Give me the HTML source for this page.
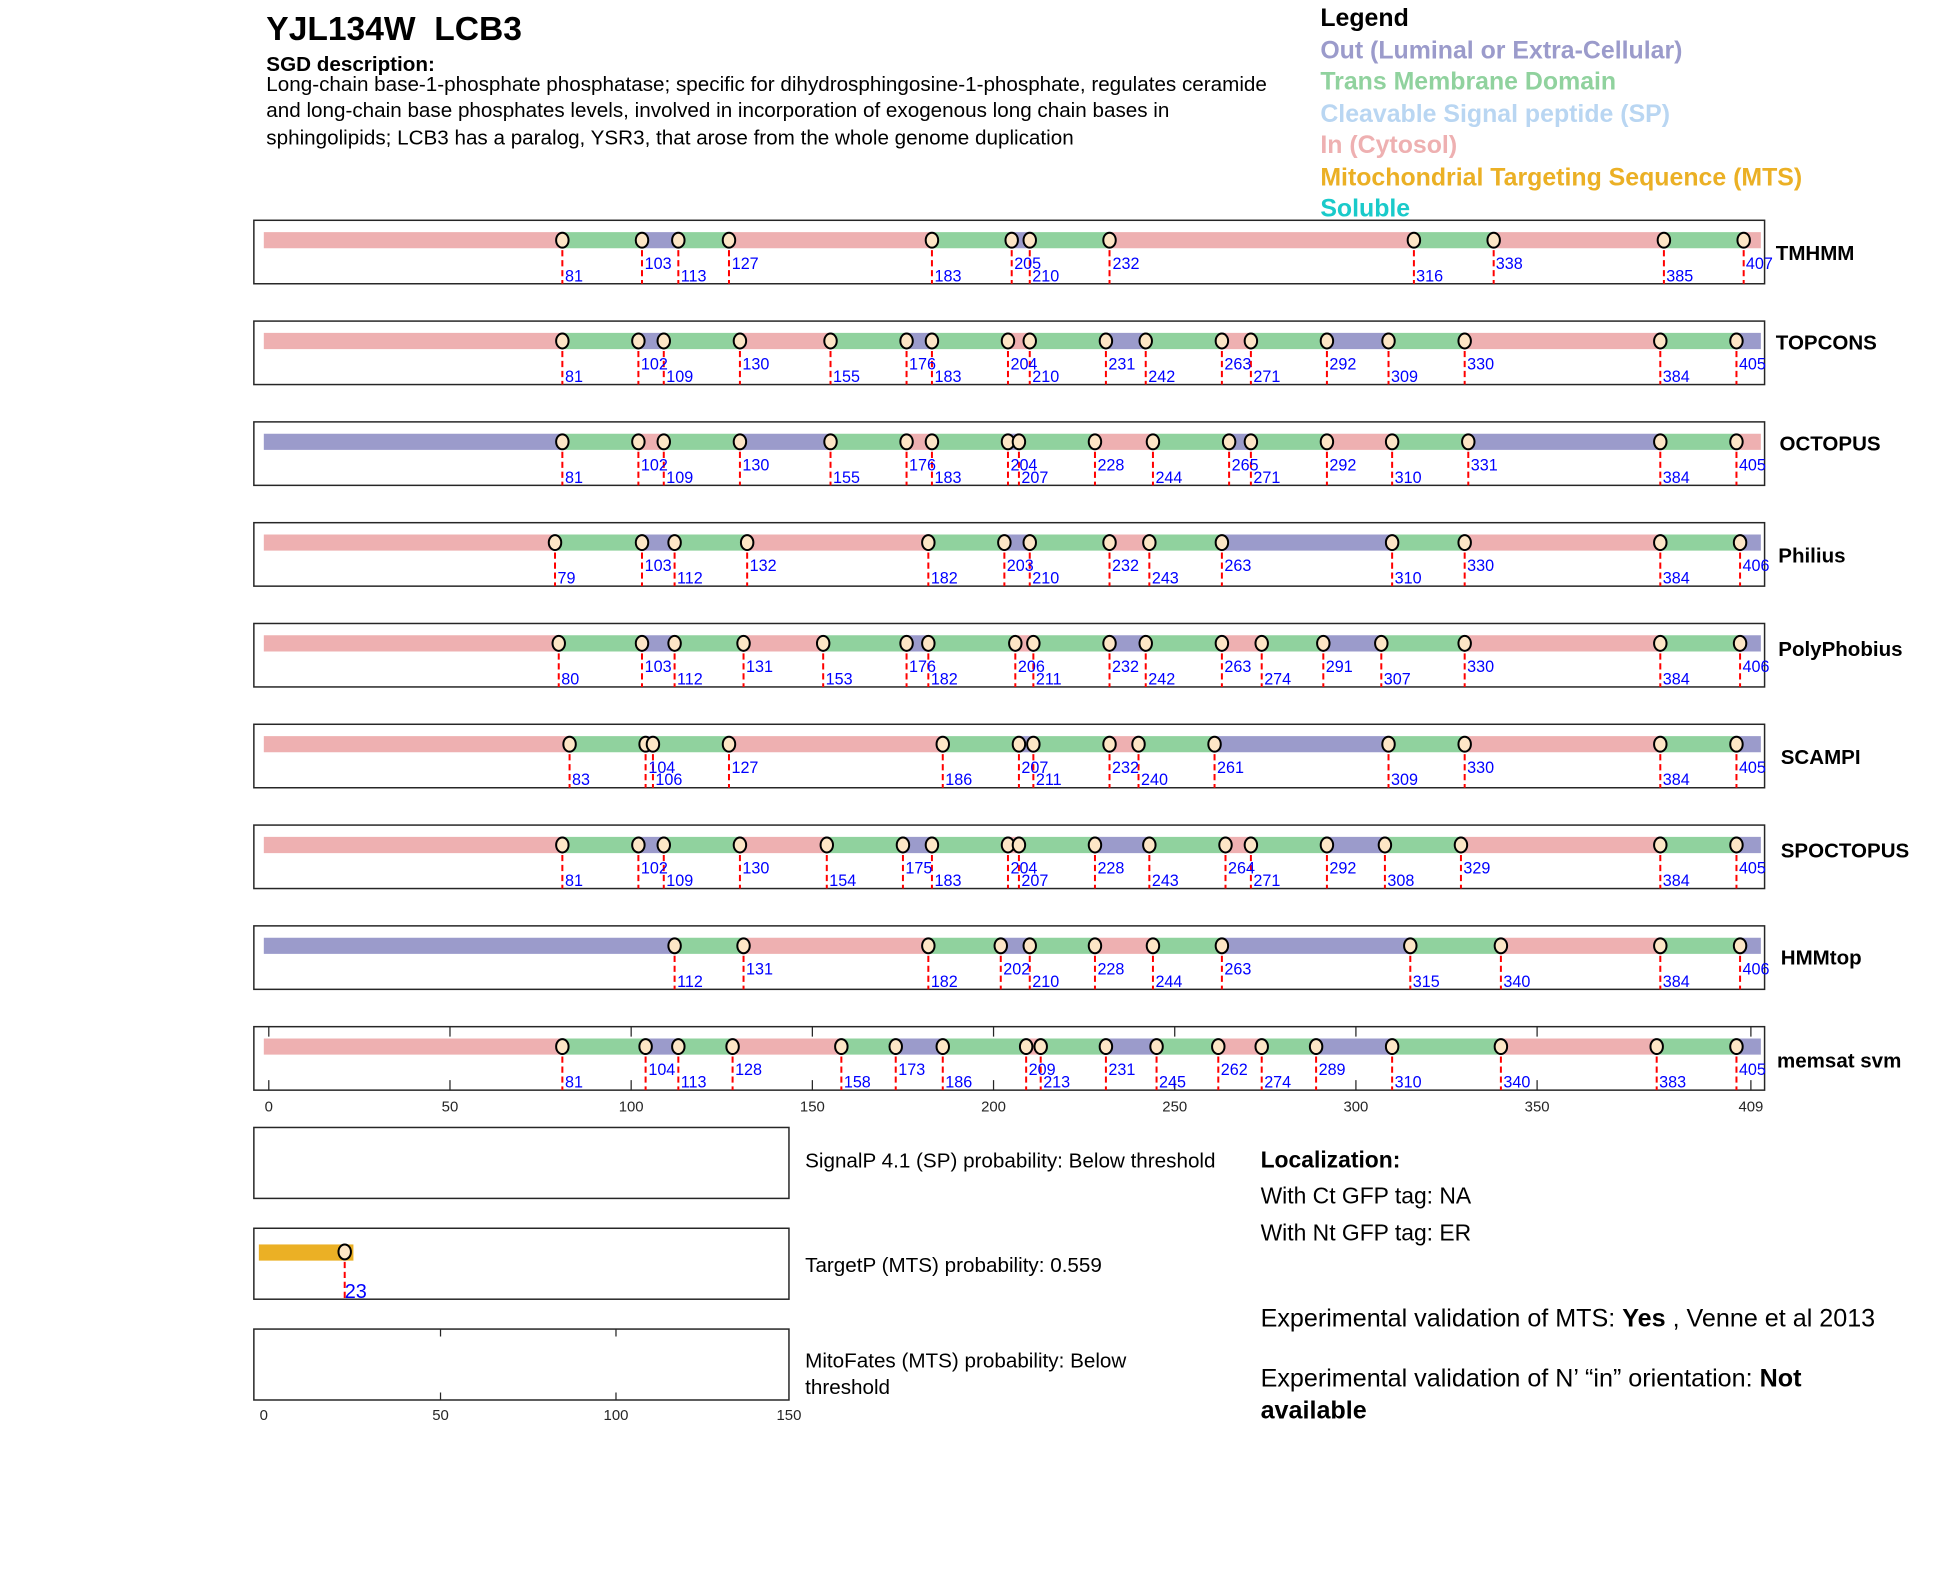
<!DOCTYPE html>
<html><head><meta charset="utf-8"><style>
html,body{margin:0;padding:0;background:#fff;}
svg{display:block;font-family:"Liberation Sans",Arial,sans-serif;}
.P{stroke:#EEB0B1;stroke-width:13;fill:none}
.G{stroke:#90D29E;stroke-width:13;fill:none}
.B{stroke:#9B9BCB;stroke-width:13;fill:none}
.d{stroke:#f00;stroke-width:1.6;stroke-dasharray:5 3;fill:none}
.bx{fill:none;stroke:#262626;stroke-width:1.2}
.n{fill:#0000ff;font-size:13px}
.nm{font-size:16.5px;font-weight:bold;fill:#000}
.tk{font-size:12px;fill:#262626;text-anchor:middle}
</style></head><body>
<svg width="1950" height="1573" viewBox="0 0 1567 1264" xmlns="http://www.w3.org/2000/svg">
<defs><ellipse id="c" cx="0" cy="0" rx="5" ry="6" fill="#FDE6C6" stroke="#000" stroke-width="1.6"/></defs>
<text x="214" y="32" font-size="27" font-weight="bold" xml:space="preserve" style="white-space:pre">YJL134W  LCB3</text>
<text x="214" y="57" font-size="16.6" font-weight="bold">SGD description:</text>
<text x="214" y="73" font-size="16.6">Long-chain base-1-phosphate phosphatase; specific for dihydrosphingosine-1-phosphate, regulates ceramide</text>
<text x="214" y="94" font-size="16.6">and long-chain base phosphates levels, involved in incorporation of exogenous long chain bases in</text>
<text x="214" y="116" font-size="16.6">sphingolipids; LCB3 has a paralog, YSR3, that arose from the whole genome duplication</text>
<g font-size="20" font-weight="bold">
<text x="1061" y="21" fill="#000">Legend</text>
<text x="1061" y="47" fill="#9B9BCB">Out (Luminal or Extra-Cellular)</text>
<text x="1061" y="72" fill="#90D29E">Trans Membrane Domain</text>
<text x="1061" y="98" fill="#B9D6F2">Cleavable Signal peptide (SP)</text>
<text x="1061" y="123" fill="#EEB0B1">In (Cytosol)</text>
<text x="1061" y="149" fill="#EBB025">Mitochondrial Targeting Sequence (MTS)</text>
<text x="1061" y="174" fill="#1ACACA">Soluble</text>
</g>

<!-- TMHMM -->
<g transform="translate(0,177)">
<rect class="bx" x="204" y="0" width="1214" height="51"/>
<path class="P" d="M212 16H451.9M585.8 16H748.9M891.6 16H1136.2M1200.3 16H1337.1M1401.2 16H1415"/>
<path class="G" d="M451.9 16H515.9M545.1 16H585.8M748.9 16H813M827.5 16H891.6M1136.2 16H1200.3M1337.1 16H1401.2"/>
<path class="B" d="M515.9 16H545.1M813 16H827.5"/>
<path class="d" d="M451.9 16V51M515.9 16V51M545.1 16V51M585.8 16V51M748.9 16V51M813 16V51M827.5 16V51M891.6 16V51M1136.2 16V51M1200.3 16V51M1337.1 16V51M1401.2 16V51"/>
<use href="#c" x="451.9" y="16"/><use href="#c" x="515.9" y="16"/><use href="#c" x="545.1" y="16"/><use href="#c" x="585.8" y="16"/><use href="#c" x="748.9" y="16"/><use href="#c" x="813" y="16"/><use href="#c" x="827.5" y="16"/><use href="#c" x="891.6" y="16"/><use href="#c" x="1136.2" y="16"/><use href="#c" x="1200.3" y="16"/><use href="#c" x="1337.1" y="16"/><use href="#c" x="1401.2" y="16"/>
<text class="n" x="454" y="49">81</text><text class="n" x="518" y="39">103</text><text class="n" x="547" y="49">113</text><text class="n" x="588" y="39">127</text><text class="n" x="751" y="49">183</text><text class="n" x="815" y="39">205</text><text class="n" x="829.5" y="49">210</text><text class="n" x="894" y="39">232</text><text class="n" x="1138" y="49">316</text><text class="n" x="1202" y="39">338</text><text class="n" x="1339" y="49">385</text><text class="n" x="1403" y="39">407</text>
<text class="nm" x="1427" y="32">TMHMM</text>
</g>

<!-- TOPCONS -->
<g transform="translate(0,258)">
<rect class="bx" x="204" y="0" width="1214" height="51"/>
<path class="P" d="M212 16H451.9M594.6 16H667.4M810 16H827.5M981.9 16H1005.2M1177 16H1334.2"/>
<path class="G" d="M451.9 16H513M533.4 16H594.6M667.4 16H728.5M748.9 16H810M827.5 16H888.7M920.7 16H981.9M1005.2 16H1066.3M1115.8 16H1177M1334.2 16H1395.4"/>
<path class="B" d="M513 16H533.4M728.5 16H748.9M888.7 16H920.7M1066.3 16H1115.8M1395.4 16H1415"/>
<path class="d" d="M451.9 16V51M513 16V51M533.4 16V51M594.6 16V51M667.4 16V51M728.5 16V51M748.9 16V51M810 16V51M827.5 16V51M888.7 16V51M920.7 16V51M981.9 16V51M1005.2 16V51M1066.3 16V51M1115.8 16V51M1177 16V51M1334.2 16V51M1395.4 16V51"/>
<use href="#c" x="451.9" y="16"/><use href="#c" x="513" y="16"/><use href="#c" x="533.4" y="16"/><use href="#c" x="594.6" y="16"/><use href="#c" x="667.4" y="16"/><use href="#c" x="728.5" y="16"/><use href="#c" x="748.9" y="16"/><use href="#c" x="810" y="16"/><use href="#c" x="827.5" y="16"/><use href="#c" x="888.7" y="16"/><use href="#c" x="920.7" y="16"/><use href="#c" x="981.9" y="16"/><use href="#c" x="1005.2" y="16"/><use href="#c" x="1066.3" y="16"/><use href="#c" x="1115.8" y="16"/><use href="#c" x="1177" y="16"/><use href="#c" x="1334.2" y="16"/><use href="#c" x="1395.4" y="16"/>
<text class="n" x="454" y="49">81</text><text class="n" x="515" y="39">102</text><text class="n" x="535.4" y="49">109</text><text class="n" x="596.6" y="39">130</text><text class="n" x="669.4" y="49">155</text><text class="n" x="730.5" y="39">176</text><text class="n" x="751" y="49">183</text><text class="n" x="812" y="39">204</text><text class="n" x="829.5" y="49">210</text><text class="n" x="890.7" y="39">231</text><text class="n" x="922.7" y="49">242</text><text class="n" x="983.9" y="39">263</text><text class="n" x="1007.2" y="49">271</text><text class="n" x="1068.3" y="39">292</text><text class="n" x="1117.8" y="49">309</text><text class="n" x="1179" y="39">330</text><text class="n" x="1336.2" y="49">384</text><text class="n" x="1397.4" y="39">405</text>
<text class="nm" x="1427" y="23">TOPCONS</text>
</g>

<!-- OCTOPUS -->
<g transform="translate(0,339)">
<rect class="bx" x="204" y="0" width="1214" height="51"/>
<path class="B" d="M212 16H451.9M594.6 16H667.4M810 16H818.8M987.7 16H1005.2M1179.9 16H1334.2"/>
<path class="G" d="M451.9 16H513M533.4 16H594.6M667.4 16H728.5M748.9 16H810M818.8 16H879.9M926.5 16H987.7M1005.2 16H1066.3M1118.7 16H1179.9M1334.2 16H1395.4"/>
<path class="P" d="M513 16H533.4M728.5 16H748.9M879.9 16H926.5M1066.3 16H1118.7M1395.4 16H1415"/>
<path class="d" d="M451.9 16V51M513 16V51M533.4 16V51M594.6 16V51M667.4 16V51M728.5 16V51M748.9 16V51M810 16V51M818.8 16V51M879.9 16V51M926.5 16V51M987.7 16V51M1005.2 16V51M1066.3 16V51M1118.7 16V51M1179.9 16V51M1334.2 16V51M1395.4 16V51"/>
<use href="#c" x="451.9" y="16"/><use href="#c" x="513" y="16"/><use href="#c" x="533.4" y="16"/><use href="#c" x="594.6" y="16"/><use href="#c" x="667.4" y="16"/><use href="#c" x="728.5" y="16"/><use href="#c" x="748.9" y="16"/><use href="#c" x="810" y="16"/><use href="#c" x="818.8" y="16"/><use href="#c" x="879.9" y="16"/><use href="#c" x="926.5" y="16"/><use href="#c" x="987.7" y="16"/><use href="#c" x="1005.2" y="16"/><use href="#c" x="1066.3" y="16"/><use href="#c" x="1118.7" y="16"/><use href="#c" x="1179.9" y="16"/><use href="#c" x="1334.2" y="16"/><use href="#c" x="1395.4" y="16"/>
<text class="n" x="454" y="49">81</text><text class="n" x="515" y="39">102</text><text class="n" x="535.4" y="49">109</text><text class="n" x="596.6" y="39">130</text><text class="n" x="669.4" y="49">155</text><text class="n" x="730.5" y="39">176</text><text class="n" x="751" y="49">183</text><text class="n" x="812" y="39">204</text><text class="n" x="820.8" y="49">207</text><text class="n" x="881.9" y="39">228</text><text class="n" x="928.5" y="49">244</text><text class="n" x="989.7" y="39">265</text><text class="n" x="1007.2" y="49">271</text><text class="n" x="1068.3" y="39">292</text><text class="n" x="1120.7" y="49">310</text><text class="n" x="1181.9" y="39">331</text><text class="n" x="1336.2" y="49">384</text><text class="n" x="1397.4" y="39">405</text>
<text class="nm" x="1430" y="23">OCTOPUS</text>
</g>

<!-- Philius -->
<g transform="translate(0,420)">
<rect class="bx" x="204" y="0" width="1214" height="51"/>
<path class="P" d="M212 16H446M600.4 16H746M891.6 16H923.6M1177 16H1334.2"/>
<path class="G" d="M446 16H515.9M542.1 16H600.4M746 16H807.1M827.5 16H891.6M923.6 16H981.9M1118.7 16H1177M1334.2 16H1398.3"/>
<path class="B" d="M515.9 16H542.1M807.1 16H827.5M981.9 16H1118.7M1398.3 16H1415"/>
<path class="d" d="M446 16V51M515.9 16V51M542.1 16V51M600.4 16V51M746 16V51M807.1 16V51M827.5 16V51M891.6 16V51M923.6 16V51M981.9 16V51M1118.7 16V51M1177 16V51M1334.2 16V51M1398.3 16V51"/>
<use href="#c" x="446" y="16"/><use href="#c" x="515.9" y="16"/><use href="#c" x="542.1" y="16"/><use href="#c" x="600.4" y="16"/><use href="#c" x="746" y="16"/><use href="#c" x="807.1" y="16"/><use href="#c" x="827.5" y="16"/><use href="#c" x="891.6" y="16"/><use href="#c" x="923.6" y="16"/><use href="#c" x="981.9" y="16"/><use href="#c" x="1118.7" y="16"/><use href="#c" x="1177" y="16"/><use href="#c" x="1334.2" y="16"/><use href="#c" x="1398.3" y="16"/>
<text class="n" x="448" y="49">79</text><text class="n" x="518" y="39">103</text><text class="n" x="544" y="49">112</text><text class="n" x="602.4" y="39">132</text><text class="n" x="748" y="49">182</text><text class="n" x="809" y="39">203</text><text class="n" x="829.5" y="49">210</text><text class="n" x="893.6" y="39">232</text><text class="n" x="925.6" y="49">243</text><text class="n" x="983.9" y="39">263</text><text class="n" x="1120.7" y="49">310</text><text class="n" x="1179" y="39">330</text><text class="n" x="1336.2" y="49">384</text><text class="n" x="1400.3" y="39">406</text>
<text class="nm" x="1429" y="32">Philius</text>
</g>

<!-- PolyPhobius -->
<g transform="translate(0,501)">
<rect class="bx" x="204" y="0" width="1214" height="51"/>
<path class="P" d="M212 16H449M597.5 16H661.5M815.9 16H830.4M981.9 16H1013.9M1177 16H1334.2"/>
<path class="G" d="M449 16H515.9M542.1 16H597.5M661.5 16H728.5M746 16H815.9M830.4 16H891.6M920.7 16H981.9M1013.9 16H1063.4M1110 16H1177M1334.2 16H1398.3"/>
<path class="B" d="M515.9 16H542.1M728.5 16H746M891.6 16H920.7M1063.4 16H1110M1398.3 16H1415"/>
<path class="d" d="M449 16V51M515.9 16V51M542.1 16V51M597.5 16V51M661.5 16V51M728.5 16V51M746 16V51M815.9 16V51M830.4 16V51M891.6 16V51M920.7 16V51M981.9 16V51M1013.9 16V51M1063.4 16V51M1110 16V51M1177 16V51M1334.2 16V51M1398.3 16V51"/>
<use href="#c" x="449" y="16"/><use href="#c" x="515.9" y="16"/><use href="#c" x="542.1" y="16"/><use href="#c" x="597.5" y="16"/><use href="#c" x="661.5" y="16"/><use href="#c" x="728.5" y="16"/><use href="#c" x="746" y="16"/><use href="#c" x="815.9" y="16"/><use href="#c" x="830.4" y="16"/><use href="#c" x="891.6" y="16"/><use href="#c" x="920.7" y="16"/><use href="#c" x="981.9" y="16"/><use href="#c" x="1013.9" y="16"/><use href="#c" x="1063.4" y="16"/><use href="#c" x="1110" y="16"/><use href="#c" x="1177" y="16"/><use href="#c" x="1334.2" y="16"/><use href="#c" x="1398.3" y="16"/>
<text class="n" x="451" y="49">80</text><text class="n" x="518" y="39">103</text><text class="n" x="544" y="49">112</text><text class="n" x="599.5" y="39">131</text><text class="n" x="663.5" y="49">153</text><text class="n" x="730.5" y="39">176</text><text class="n" x="748" y="49">182</text><text class="n" x="818" y="39">206</text><text class="n" x="832.4" y="49">211</text><text class="n" x="893.6" y="39">232</text><text class="n" x="922.7" y="49">242</text><text class="n" x="983.9" y="39">263</text><text class="n" x="1015.9" y="49">274</text><text class="n" x="1065.4" y="39">291</text><text class="n" x="1112" y="49">307</text><text class="n" x="1179" y="39">330</text><text class="n" x="1336.2" y="49">384</text><text class="n" x="1400.3" y="39">406</text>
<text class="nm" x="1429" y="26">PolyPhobius</text>
</g>

<!-- SCAMPI -->
<g transform="translate(0,582)">
<rect class="bx" x="204" y="0" width="1214" height="51"/>
<path class="P" d="M212 16H457.7M585.8 16H757.6M891.6 16H914.9M1177 16H1334.2"/>
<path class="G" d="M457.7 16H518.8M524.7 16H585.8M757.6 16H818.8M830.4 16H891.6M914.9 16H976M1115.8 16H1177M1334.2 16H1395.4"/>
<path class="B" d="M518.8 16H524.7M818.8 16H830.4M976 16H1115.8M1395.4 16H1415"/>
<path class="d" d="M457.7 16V51M518.8 16V51M524.7 16V51M585.8 16V51M757.6 16V51M818.8 16V51M830.4 16V51M891.6 16V51M914.9 16V51M976 16V51M1115.8 16V51M1177 16V51M1334.2 16V51M1395.4 16V51"/>
<use href="#c" x="457.7" y="16"/><use href="#c" x="518.8" y="16"/><use href="#c" x="524.7" y="16"/><use href="#c" x="585.8" y="16"/><use href="#c" x="757.6" y="16"/><use href="#c" x="818.8" y="16"/><use href="#c" x="830.4" y="16"/><use href="#c" x="891.6" y="16"/><use href="#c" x="914.9" y="16"/><use href="#c" x="976" y="16"/><use href="#c" x="1115.8" y="16"/><use href="#c" x="1177" y="16"/><use href="#c" x="1334.2" y="16"/><use href="#c" x="1395.4" y="16"/>
<text class="n" x="459.7" y="49">83</text><text class="n" x="521" y="39">104</text><text class="n" x="526.7" y="49">106</text><text class="n" x="587.8" y="39">127</text><text class="n" x="759.6" y="49">186</text><text class="n" x="820.8" y="39">207</text><text class="n" x="832.4" y="49">211</text><text class="n" x="893.6" y="39">232</text><text class="n" x="916.9" y="49">240</text><text class="n" x="978" y="39">261</text><text class="n" x="1117.8" y="49">309</text><text class="n" x="1179" y="39">330</text><text class="n" x="1336.2" y="49">384</text><text class="n" x="1397.4" y="39">405</text>
<text class="nm" x="1431" y="32">SCAMPI</text>
</g>

<!-- SPOCTOPUS -->
<g transform="translate(0,663)">
<rect class="bx" x="204" y="0" width="1214" height="51"/>
<path class="P" d="M212 16H451.9M594.6 16H664.4M810 16H818.8M984.8 16H1005.2M1174 16H1334.2"/>
<path class="G" d="M451.9 16H513M533.4 16H594.6M664.4 16H725.6M748.9 16H810M818.8 16H879.9M923.6 16H984.8M1005.2 16H1066.3M1112.9 16H1174M1334.2 16H1395.4"/>
<path class="B" d="M513 16H533.4M725.6 16H748.9M879.9 16H923.6M1066.3 16H1112.9M1395.4 16H1415"/>
<path class="d" d="M451.9 16V51M513 16V51M533.4 16V51M594.6 16V51M664.4 16V51M725.6 16V51M748.9 16V51M810 16V51M818.8 16V51M879.9 16V51M923.6 16V51M984.8 16V51M1005.2 16V51M1066.3 16V51M1112.9 16V51M1174 16V51M1334.2 16V51M1395.4 16V51"/>
<use href="#c" x="451.9" y="16"/><use href="#c" x="513" y="16"/><use href="#c" x="533.4" y="16"/><use href="#c" x="594.6" y="16"/><use href="#c" x="664.4" y="16"/><use href="#c" x="725.6" y="16"/><use href="#c" x="748.9" y="16"/><use href="#c" x="810" y="16"/><use href="#c" x="818.8" y="16"/><use href="#c" x="879.9" y="16"/><use href="#c" x="923.6" y="16"/><use href="#c" x="984.8" y="16"/><use href="#c" x="1005.2" y="16"/><use href="#c" x="1066.3" y="16"/><use href="#c" x="1112.9" y="16"/><use href="#c" x="1174" y="16"/><use href="#c" x="1334.2" y="16"/><use href="#c" x="1395.4" y="16"/>
<text class="n" x="454" y="49">81</text><text class="n" x="515" y="39">102</text><text class="n" x="535.4" y="49">109</text><text class="n" x="596.6" y="39">130</text><text class="n" x="666.4" y="49">154</text><text class="n" x="727.6" y="39">175</text><text class="n" x="751" y="49">183</text><text class="n" x="812" y="39">204</text><text class="n" x="820.8" y="49">207</text><text class="n" x="881.9" y="39">228</text><text class="n" x="925.6" y="49">243</text><text class="n" x="986.8" y="39">264</text><text class="n" x="1007.2" y="49">271</text><text class="n" x="1068.3" y="39">292</text><text class="n" x="1114.9" y="49">308</text><text class="n" x="1176" y="39">329</text><text class="n" x="1336.2" y="49">384</text><text class="n" x="1397.4" y="39">405</text>
<text class="nm" x="1431" y="26">SPOCTOPUS</text>
</g>

<!-- HMMtop -->
<g transform="translate(0,744)">
<rect class="bx" x="204" y="0" width="1214" height="51"/>
<path class="B" d="M212 16H542.1M804.2 16H827.5M981.9 16H1133.3M1398.3 16H1415"/>
<path class="G" d="M542.1 16H597.5M746 16H804.2M827.5 16H879.9M926.5 16H981.9M1133.3 16H1206.1M1334.2 16H1398.3"/>
<path class="P" d="M597.5 16H746M879.9 16H926.5M1206.1 16H1334.2"/>
<path class="d" d="M542.1 16V51M597.5 16V51M746 16V51M804.2 16V51M827.5 16V51M879.9 16V51M926.5 16V51M981.9 16V51M1133.3 16V51M1206.1 16V51M1334.2 16V51M1398.3 16V51"/>
<use href="#c" x="542.1" y="16"/><use href="#c" x="597.5" y="16"/><use href="#c" x="746" y="16"/><use href="#c" x="804.2" y="16"/><use href="#c" x="827.5" y="16"/><use href="#c" x="879.9" y="16"/><use href="#c" x="926.5" y="16"/><use href="#c" x="981.9" y="16"/><use href="#c" x="1133.3" y="16"/><use href="#c" x="1206.1" y="16"/><use href="#c" x="1334.2" y="16"/><use href="#c" x="1398.3" y="16"/>
<text class="n" x="544.1" y="49">112</text><text class="n" x="599.5" y="39">131</text><text class="n" x="748" y="49">182</text><text class="n" x="806.2" y="39">202</text><text class="n" x="829.5" y="49">210</text><text class="n" x="881.9" y="39">228</text><text class="n" x="928.5" y="49">244</text><text class="n" x="983.9" y="39">263</text><text class="n" x="1135.3" y="49">315</text><text class="n" x="1208.1" y="49">340</text><text class="n" x="1336.2" y="49">384</text><text class="n" x="1400.3" y="39">406</text>
<text class="nm" x="1431" y="31">HMMtop</text>
</g>

<!-- memsat svm -->
<g transform="translate(0,825)">
<rect class="bx" x="204" y="0" width="1214" height="51"/>
<path stroke="#262626" stroke-width="1" d="M216 0v8M361.6 0v8M507.2 0v8M652.8 0v8M798.4 0v8M944 0v8M1089.6 0v8M1235.2 0v8M1407 0v8M216 51v-8M361.6 51v-8M507.2 51v-8M652.8 51v-8M798.4 51v-8M944 51v-8M1089.6 51v-8M1235.2 51v-8M1407 51v-8"/>
<path class="P" d="M212 16H451.9M588.7 16H676.1M824.6 16H836.3M979 16H1013.9M1206.1 16H1331.3"/>
<path class="G" d="M451.9 16H518.8M545.1 16H588.7M676.1 16H719.8M757.6 16H824.6M836.3 16H888.7M929.4 16H979M1013.9 16H1057.6M1118.7 16H1206.1M1331.3 16H1395.4"/>
<path class="B" d="M518.8 16H545.1M719.8 16H757.6M888.7 16H929.4M1057.6 16H1118.7M1395.4 16H1415"/>
<path class="d" d="M451.9 16V51M518.8 16V51M545.1 16V51M588.7 16V51M676.1 16V51M719.8 16V51M757.6 16V51M824.6 16V51M836.3 16V51M888.7 16V51M929.4 16V51M979 16V51M1013.9 16V51M1057.6 16V51M1118.7 16V51M1206.1 16V51M1331.3 16V51M1395.4 16V51"/>
<use href="#c" x="451.9" y="16"/><use href="#c" x="518.8" y="16"/><use href="#c" x="545.1" y="16"/><use href="#c" x="588.7" y="16"/><use href="#c" x="676.1" y="16"/><use href="#c" x="719.8" y="16"/><use href="#c" x="757.6" y="16"/><use href="#c" x="824.6" y="16"/><use href="#c" x="836.3" y="16"/><use href="#c" x="888.7" y="16"/><use href="#c" x="929.4" y="16"/><use href="#c" x="979" y="16"/><use href="#c" x="1013.9" y="16"/><use href="#c" x="1057.6" y="16"/><use href="#c" x="1118.7" y="16"/><use href="#c" x="1206.1" y="16"/><use href="#c" x="1331.3" y="16"/><use href="#c" x="1395.4" y="16"/>
<text class="n" x="454" y="49">81</text><text class="n" x="521" y="39">104</text><text class="n" x="547" y="49">113</text><text class="n" x="590.7" y="39">128</text><text class="n" x="678.1" y="49">158</text><text class="n" x="721.8" y="39">173</text><text class="n" x="759.6" y="49">186</text><text class="n" x="826.6" y="39">209</text><text class="n" x="838.3" y="49">213</text><text class="n" x="890.7" y="39">231</text><text class="n" x="931.4" y="49">245</text><text class="n" x="981" y="39">262</text><text class="n" x="1015.9" y="49">274</text><text class="n" x="1059.6" y="39">289</text><text class="n" x="1120.7" y="49">310</text><text class="n" x="1208.1" y="49">340</text><text class="n" x="1333.3" y="49">383</text><text class="n" x="1397.4" y="39">405</text>
<text class="nm" x="1428" y="33">memsat svm</text>
</g>
<g class="tk">
<text x="216" y="893" class="tk">0</text><text x="361.6" y="893" class="tk">50</text><text x="507.2" y="893" class="tk">100</text><text x="652.8" y="893" class="tk">150</text><text x="798.4" y="893" class="tk">200</text><text x="944" y="893" class="tk">250</text><text x="1089.6" y="893" class="tk">300</text><text x="1235.2" y="893" class="tk">350</text><text x="1407" y="893" class="tk">409</text>
</g>

<!-- bottom panels -->
<rect class="bx" x="204" y="906" width="430" height="57"/>
<rect class="bx" x="204" y="987" width="430" height="57"/>
<rect x="208" y="1000" width="76" height="13" fill="#EBB025"/>
<path class="d" d="M277 1006V1044"/>
<use href="#c" x="277" y="1006"/>
<text x="277" y="1043" fill="#0000ff" font-size="16">23</text>
<rect class="bx" x="204" y="1068" width="430" height="57"/>
<path stroke="#262626" stroke-width="1" d="M354 1068v6M495 1068v6M354 1125v-6M495 1125v-6"/>
<text class="tk" x="212" y="1141">0</text><text class="tk" x="354" y="1141">50</text><text class="tk" x="495" y="1141">100</text><text class="tk" x="634" y="1141">150</text>

<g font-size="16.6" fill="#000">
<text x="647" y="938">SignalP 4.1 (SP) probability: Below threshold</text>
<text x="647" y="1022">TargetP (MTS) probability: 0.559</text>
<text x="647" y="1099">MitoFates (MTS) probability: Below</text>
<text x="647" y="1120">threshold</text>
</g>
<g font-size="18.4" fill="#000">
<text x="1013" y="938" font-weight="bold">Localization:</text>
<text x="1013" y="967">With Ct GFP tag: NA</text>
<text x="1013" y="997">With Nt GFP tag: ER</text>
</g>
<g font-size="20.2" fill="#000">
<text x="1013" y="1066">Experimental validation of MTS: <tspan font-weight="bold">Yes</tspan> , Venne et al 2013</text>
<text x="1013" y="1114">Experimental validation of N’ “in” orientation: <tspan font-weight="bold">Not</tspan></text>
<text x="1013" y="1140" font-weight="bold">available</text>
</g>
</svg>
</body></html>
